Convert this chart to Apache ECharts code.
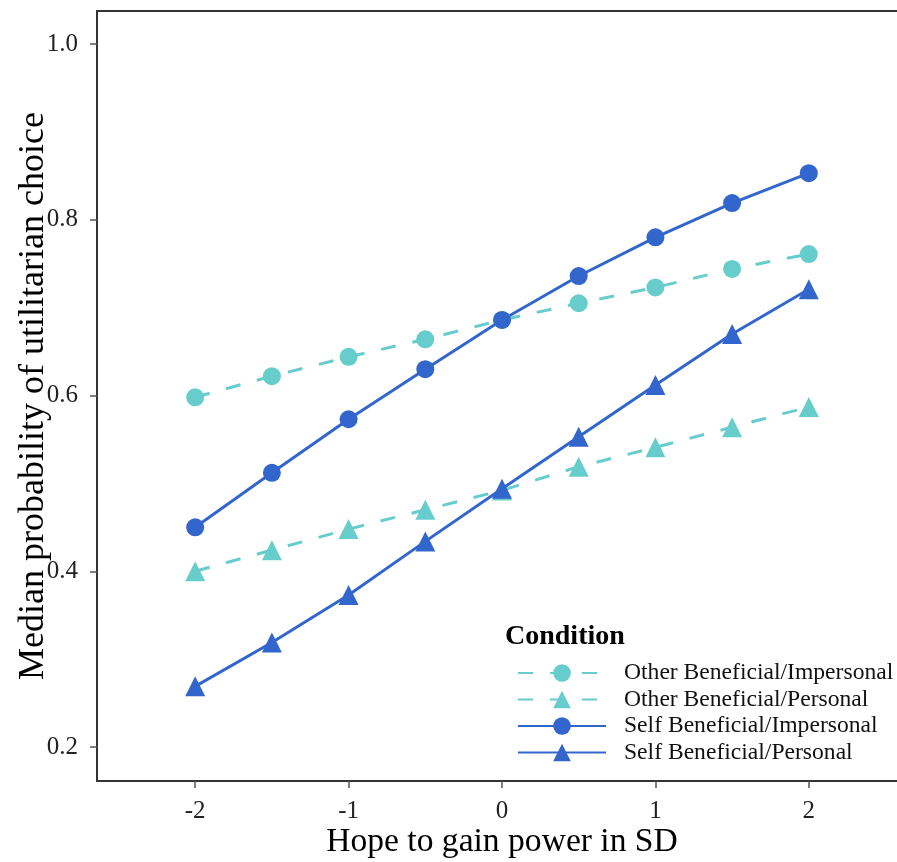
<!DOCTYPE html>
<html><head><meta charset="utf-8">
<script src="https://cdn.jsdelivr.net/npm/echarts@6/dist/echarts.min.js"></script>
<style>html,body{margin:0;padding:0;background:#fff;overflow:hidden}#c{width:920px;height:862px}</style>
</head><body><div id="c"></div>
<script>
const xValues = [-2, -1.5, -1, -0.5, 0, 0.5, 1, 1.5, 2];
const otherImpersonal = [0.598, 0.622, 0.644, 0.664, 0.686, 0.705, 0.723, 0.744, 0.761];
const otherPersonal = [0.400, 0.424, 0.448, 0.470, 0.492, 0.519, 0.541, 0.564, 0.587];
const selfImpersonal = [0.450, 0.512, 0.573, 0.630, 0.686, 0.736, 0.780, 0.819, 0.853];
const selfPersonal = [0.269, 0.319, 0.373, 0.434, 0.494, 0.553, 0.612, 0.670, 0.721];
const seriesNames = ['Other Beneficial/Impersonal','Other Beneficial/Personal','Self Beneficial/Impersonal','Self Beneficial/Personal'];
const xTicks = [-2, -1, 0, 1, 2];
const yTicks = [0.2, 0.4, 0.6, 0.8, 1.0];

const cyan = '#66CDCC', blue = '#3366CC';
const font = 'Liberation Serif';
function mk(name, vals, color, dashed, symbol, size) {
  return {
    name, type: 'line', data: xValues.map((x, i) => [x, vals[i]]),
    symbol, symbolSize: size, showSymbol: true,
    lineStyle: { color, width: 3, type: dashed ? [15, 17] : 'solid' },
    itemStyle: { color }, emphasis: { disabled: true }
  };
}
const chart = echarts.init(document.getElementById('c'), null, { renderer: 'canvas' });
chart.setOption({
  animation: false,
  backgroundColor: '#fff',
  title: { text: 'Condition', left: 505, top: 623, padding: 0, textStyle: { fontFamily: font, fontWeight: 'bold', fontSize: 28, color: '#000' } },
  legend: {
    orient: 'vertical', left: 517, top: 660, padding: 0, itemWidth: 88, itemHeight: 22, itemGap: 0.5,
    data: seriesNames,
    textStyle: { fontFamily: font, fontSize: 23.6, lineHeight: 26, color: '#111', padding: [0, 0, 0, 13] }
  },
  grid: { left: 97, right: 13, top: 11, bottom: 81, show: true, borderColor: '#333', borderWidth: 2, containLabel: false, outerBoundsMode: 'none' },
  xAxis: {
    type: 'value', min: -2.64, max: 2.64,
    name: 'Hope to gain power in SD', nameLocation: 'middle', nameGap: 44, nameMoveOverlap: false,
    nameTextStyle: { fontFamily: font, fontSize: 33.6, color: '#000' },
    axisLine: { show: true, onZero: false, lineStyle: { color: '#333', width: 2 } },
    axisTick: { show: true, length: 7, lineStyle: { color: '#555', width: 1.5 }, customValues: xTicks },
    axisLabel: { fontFamily: font, fontSize: 25, color: '#222', margin: 18, customValues: xTicks, formatter: v => String(v) },
    splitLine: { show: false }
  },
  yAxis: {
    type: 'value', min: 0.1613, max: 1.0376,
    name: 'Median probability of utilitarian choice', nameLocation: 'middle', nameGap: 45, nameRotate: 90, nameMoveOverlap: false,
    nameTextStyle: { fontFamily: font, fontSize: 36, color: '#000' },
    axisLine: { show: true, onZero: false, lineStyle: { color: '#333', width: 2 } },
    axisTick: { show: true, length: 7, lineStyle: { color: '#555', width: 1.5 }, customValues: yTicks },
    axisLabel: { fontFamily: font, fontSize: 25, color: '#222', margin: 19, customValues: yTicks, formatter: v => v.toFixed(1) },
    splitLine: { show: false }
  },
  series: [
    mk(seriesNames[0], otherImpersonal, cyan, true, 'circle', 18),
    mk(seriesNames[1], otherPersonal, cyan, true, 'triangle', 20),
    mk(seriesNames[2], selfImpersonal, blue, false, 'circle', 18),
    mk(seriesNames[3], selfPersonal, blue, false, 'triangle', 20)
  ]
});
</script></body></html>
